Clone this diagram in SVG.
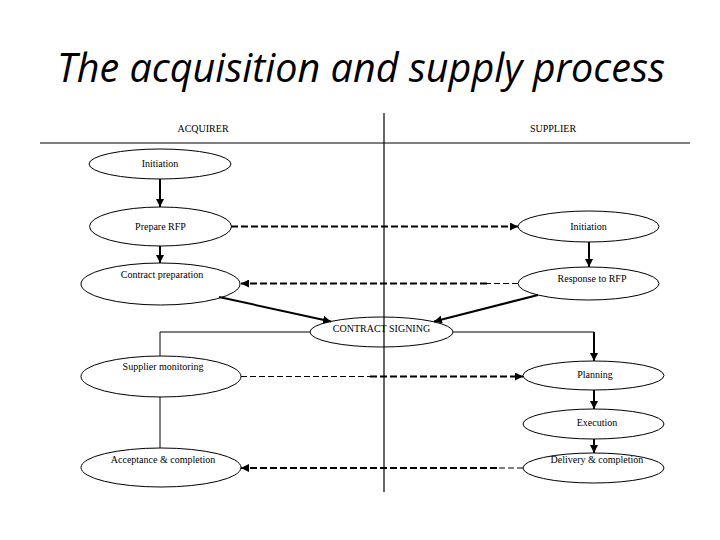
<svg xmlns="http://www.w3.org/2000/svg" width="720" height="540" viewBox="0 0 720 540">
<style>
.title{font-family:"Open Sans","Liberation Sans",sans-serif;font-style:italic;font-size:40px;fill:#000}
.lbl{font-family:"Liberation Serif","Times New Roman",serif;font-size:10px;fill:#000;text-anchor:middle}
.node ellipse{fill:none;stroke:#000;stroke-width:1}
.frame{stroke:#000;stroke-width:1.2;fill:none}
.solid{stroke:#000;stroke-width:2;fill:none}
.thin{stroke:#000;stroke-width:1;fill:none}
.dash{stroke:#000;stroke-width:2;fill:none;stroke-dasharray:7 3}
.dashthin{stroke:#000;stroke-width:1;fill:none;stroke-dasharray:6 3}
</style>
<defs>
<marker id="ah" viewBox="0 0 10 10" refX="10" refY="5" markerWidth="4" markerHeight="4" orient="auto" markerUnits="strokeWidth">
<path d="M0,0 L10,5 L0,10 z" fill="#000"/>
</marker>
</defs>
<rect width="720" height="540" fill="#fff"/>
<text class="title" x="361" y="82" text-anchor="middle" textLength="608" lengthAdjust="spacingAndGlyphs">The acquisition and supply process</text>
<g id="frame">
<line class="frame" x1="40" y1="143" x2="690" y2="143"/>
<line class="frame" x1="384" y1="113" x2="384" y2="492"/>
<text class="lbl" x="203" y="132">ACQUIRER</text>
<text class="lbl" x="553" y="132">SUPPLIER</text>
</g>
<g id="connectors">
<line class="solid" x1="160" y1="179" x2="160" y2="207" marker-end="url(#ah)"/>
<line class="solid" x1="160" y1="246" x2="160" y2="263" marker-end="url(#ah)"/>
<line class="dash" x1="231" y1="226.5" x2="518" y2="226.5" marker-end="url(#ah)"/>
<line class="solid" x1="589" y1="242" x2="589" y2="267" marker-end="url(#ah)"/>
<line class="dashthin" x1="518" y1="283.5" x2="487" y2="283.5"/>
<line class="dash" x1="487" y1="283.5" x2="241" y2="283.5" marker-end="url(#ah)"/>
<line class="solid" x1="219" y1="297" x2="331" y2="321.5" marker-end="url(#ah)"/>
<line class="solid" x1="538" y1="295" x2="434" y2="321.5" marker-end="url(#ah)"/>
<polyline class="thin" points="310,332 160,332 160,356"/>
<polyline class="thin" points="453,332 594,332 594,347"/>
<line class="solid" x1="594" y1="332" x2="594" y2="361" marker-end="url(#ah)"/>
<line class="dashthin" x1="241" y1="376.5" x2="370" y2="376.5"/>
<line class="dash" x1="370" y1="376.5" x2="523" y2="376.5" marker-end="url(#ah)"/>
<line class="thin" x1="160" y1="397" x2="160" y2="448"/>
<line class="solid" x1="594" y1="390" x2="594" y2="409" marker-end="url(#ah)"/>
<line class="solid" x1="594" y1="439" x2="594" y2="453" marker-end="url(#ah)"/>
<line class="dashthin" x1="523" y1="468" x2="497" y2="468"/>
<line class="dash" x1="497" y1="468" x2="241" y2="468" marker-end="url(#ah)"/>
</g>
<g id="n-acq-init" class="node"><ellipse cx="160" cy="164" rx="71" ry="15"/><text class="lbl" x="160" y="167">Initiation</text></g>
<g id="n-prep-rfp" class="node"><ellipse cx="160.5" cy="226.5" rx="71" ry="19.5"/><text class="lbl" x="160.5" y="230">Prepare RFP</text></g>
<g id="n-contract-prep" class="node"><ellipse cx="160.5" cy="284" rx="79.5" ry="21"/><text class="lbl" x="162" y="278">Contract preparation</text></g>
<g id="n-sup-init" class="node"><ellipse cx="588.5" cy="226.5" rx="70.5" ry="15.5"/><text class="lbl" x="588.5" y="230">Initiation</text></g>
<g id="n-response" class="node"><ellipse cx="588.5" cy="283.5" rx="70.5" ry="16.5"/><text class="lbl" x="592" y="282">Response to RFP</text></g>
<g id="n-signing" class="node"><ellipse cx="381.5" cy="332" rx="71.5" ry="15"/><text class="lbl" x="381.5" y="332">CONTRACT SIGNING</text></g>
<g id="n-monitor" class="node"><ellipse cx="161" cy="376.5" rx="80" ry="20.5"/><text class="lbl" x="163" y="370">Supplier monitoring</text></g>
<g id="n-accept" class="node"><ellipse cx="161" cy="467.5" rx="80" ry="19.5"/><text class="lbl" x="163" y="463">Acceptance &amp; completion</text></g>
<g id="n-planning" class="node"><ellipse cx="593.5" cy="375.5" rx="70.5" ry="14.5"/><text class="lbl" x="595" y="378">Planning</text></g>
<g id="n-execution" class="node"><ellipse cx="593.5" cy="424" rx="70.5" ry="15"/><text class="lbl" x="597" y="426">Execution</text></g>
<g id="n-delivery" class="node"><ellipse cx="593.5" cy="468" rx="70.5" ry="15"/><text class="lbl" x="597" y="463">Delivery &amp; completion</text></g>
</svg>
